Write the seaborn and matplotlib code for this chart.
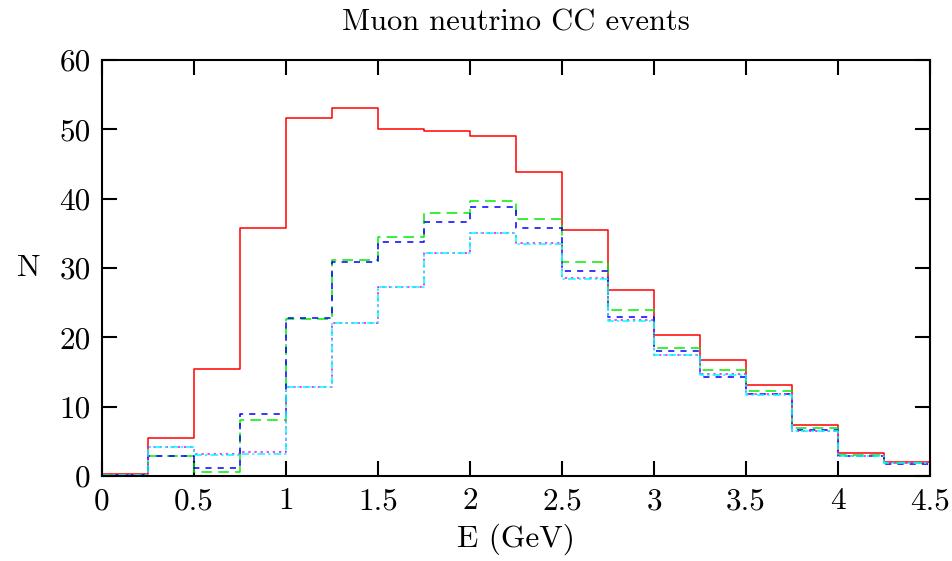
import numpy as np
import pandas as pd
import matplotlib
matplotlib.use("Agg")
import matplotlib.pyplot as plt
import seaborn as sns

# bin edges in GeV
edges = np.arange(0, 4.5001, 0.25)
centers = (edges[:-1] + edges[1:]) / 2

# event counts per bin
n_red = [0.3, 5.5, 15.4, 35.7, 51.7, 53.1, 50.0, 49.8, 49.1, 43.8,
         35.5, 26.9, 20.4, 16.7, 13.1, 7.4, 3.3, 2.0]
n_green = [0.1, 2.9, 0.6, 8.1, 22.7, 31.2, 34.5, 37.9, 39.7, 37.0,
           30.9, 24.0, 18.5, 15.3, 12.2, 6.9, 3.1, 1.9]
n_blue = [0.1, 2.9, 1.1, 8.9, 22.8, 30.8, 33.7, 36.7, 38.8, 35.7,
          29.5, 23.0, 18.1, 14.3, 11.9, 6.7, 2.9, 1.8]
n_magenta = [0.1, 4.2, 3.2, 3.4, 12.9, 22.1, 27.3, 32.1, 35.1, 33.6,
             28.5, 22.5, 17.5, 14.7, 11.8, 6.5, 2.9, 1.9]
n_cyan = [0.1, 4.2, 3.0, 3.2, 12.9, 22.1, 27.3, 32.1, 35.1, 33.5,
          28.4, 22.4, 17.4, 14.6, 11.7, 6.5, 2.9, 1.9]

xticks = [0, 0.5, 1, 1.5, 2, 2.5, 3, 3.5, 4, 4.5]
xtick_labels = ["0", "0.5", "1", "1.5", "2", "2.5", "3", "3.5", "4", "4.5"]
yticks = [0, 10, 20, 30, 40, 50, 60]
ytick_labels = ["0", "10", "20", "30", "40", "50", "60"]

series = [
    ("red", n_red, "#ff0000", "-"),
    ("green", n_green, "#00ee00", (0, (7, 4))),
    ("blue", n_blue, "#0000ff", (0, (4, 4))),
    ("magenta", n_magenta, "#ff00ff", (0, (1.5, 2.5))),
    ("cyan", n_cyan, "#00ffff", (0, (5, 2, 1.5, 2))),
]

sns.set_style("ticks")
plt.rcParams["font.family"] = ["cmr10", "DejaVu Serif"]
plt.rcParams["axes.formatter.use_mathtext"] = True
plt.rcParams["text.color"] = "black"
plt.rcParams["axes.labelcolor"] = "black"
plt.rcParams["xtick.color"] = "black"
plt.rcParams["ytick.color"] = "black"

fig = plt.figure(figsize=(9.53, 5.61), dpi=100)
ax = fig.add_axes([0.107, 0.1515, 0.869, 0.7415])

for name, vals, col, ls in series:
    df = pd.DataFrame({"E": centers, "N": vals})
    sns.histplot(data=df, x="E", weights="N", binwidth=0.25, binrange=(0, 4.5),
                 element="step", fill=False, color=col, linestyle=ls,
                 linewidth=1.1, ax=ax)

ax.set_xlim(0, 4.5)
ax.set_ylim(0, 60)
ax.set_xticks(xticks)
ax.set_xticklabels(xtick_labels)
ax.set_yticks(yticks)
ax.set_yticklabels(ytick_labels)
ax.tick_params(direction="in", length=11, width=1.5, top=True, right=True,
               labelsize=22.5, pad=8, colors="black")
for sp in ax.spines.values():
    sp.set_visible(True)
    sp.set_linewidth(1.5)
    sp.set_color("black")

ax.set_xlabel("E (GeV)", fontsize=22.5, labelpad=6, color="black")
ax.set_ylabel("N", fontsize=22.5, rotation=0, labelpad=22, va="center",
              color="black")
ax.set_title("Muon neutrino CC events", fontsize=22, pad=21, color="black")

fig.savefig("out.png", dpi=100)
